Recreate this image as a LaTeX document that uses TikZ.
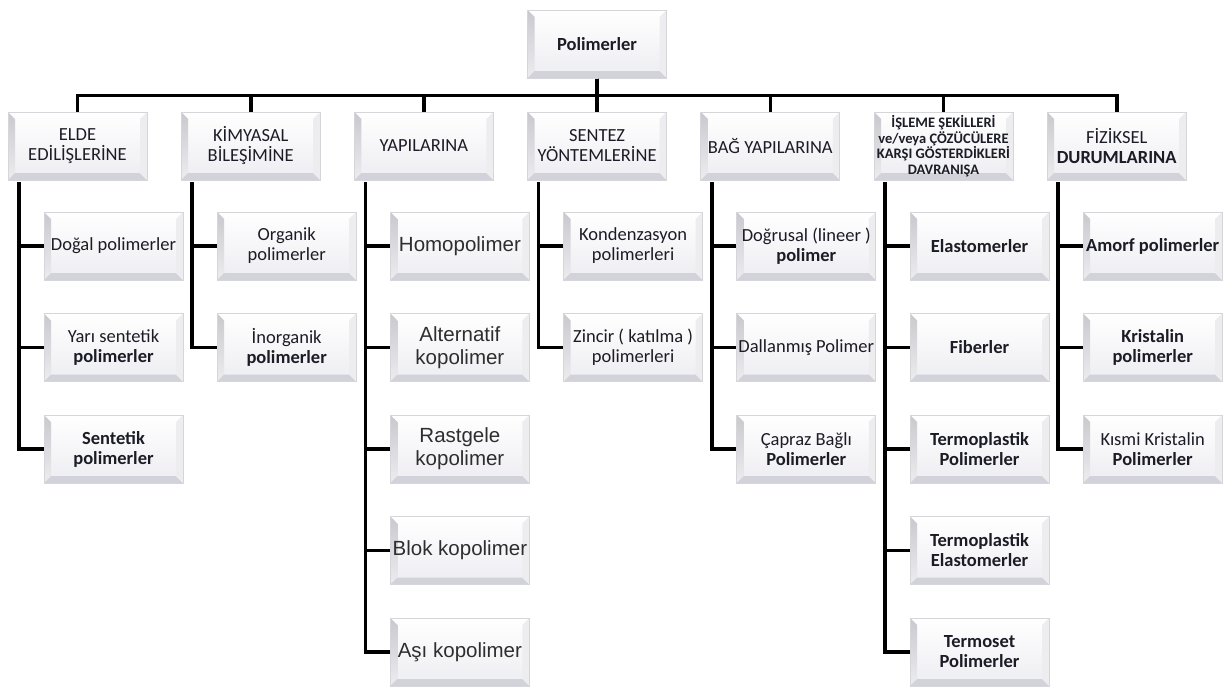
\documentclass[tikz,border=0pt]{standalone}
\usepackage{fontspec}
\setmainfont{Carlito}
\newfontfamily\arialf{Liberation Sans}
\usetikzlibrary{calc}
\definecolor{bevbot}{HTML}{D2D2DA}
\definecolor{bevleft}{HTML}{C8C8CE}
\definecolor{bevright}{HTML}{EDEDF0}
\definecolor{boxedge}{HTML}{D6D6DA}
\definecolor{intbot}{HTML}{EDEDF2}
\definecolor{txt}{HTML}{1C1C26}
\definecolor{txtar}{HTML}{2E2E2E}
\tikzset{
  bevbox/.style={rectangle, draw=boxedge, line width=1pt, minimum width=139pt, minimum height=68pt,
    inner sep=1pt, align=center, text=txt, font=\fontsize{18.5}{20}\selectfont,
    path picture={
      \coordinate (@a) at (path picture bounding box.south west);
      \coordinate (@b) at (path picture bounding box.north east);
      \shade[top color=white, bottom color=intbot] (@a) rectangle (@b);
      \shade[top color=bevleft, bottom color=bevright] (@a) -- (@a|-@b) -- ($(@a|-@b)+(7pt,-7pt)$) -- ($(@a)+(7pt,7pt)$) -- cycle;
      \fill[bevbot] (@a) -- ($(@a)+(7pt,7pt)$) -- ($(@b|-@a)+(-7pt,7pt)$) -- (@b|-@a) -- cycle;
      \fill[bevright] (@b|-@a) -- ($(@b|-@a)+(-7pt,7pt)$) -- ($(@b)+(-7pt,-7pt)$) -- (@b) -- cycle;
    }},
  arbox/.style={bevbox, text=txtar, font=\arialf\fontsize{20.5}{23}\selectfont},
  smallhead/.style={bevbox, inner sep=0pt, font=\bfseries\fontsize{14.5}{15.5}\selectfont},
  boldbox/.style={bevbox, font=\bfseries\fontsize{18.5}{20}\selectfont},
  conn/.style={draw=black, line width=3.6pt}
}
\begin{document}
\begin{tikzpicture}[x=1pt,y=-1pt]
\useasboundingbox[fill=white] (0,0) rectangle (1223,688);

% root
\node[boldbox] (root) at (597,44) {Polimerler};

% headers
\node[bevbox] (h1) at (77.5,146) {ELDE\\EDİLİŞLERİNE};
\node[bevbox] (h2) at (250.7,146) {KİMYASAL\\BİLEŞİMİNE};
\node[bevbox] (h3) at (423.9,146) {YAPILARINA};
\node[bevbox] (h4) at (597.1,146) {SENTEZ\\YÖNTEMLERİNE};
\node[bevbox] (h5) at (770.3,146) {BAĞ YAPILARINA};
\node[smallhead] (h6) at (943.5,146) {İŞLEME ŞEKİLLERİ\\ve/veya ÇÖZÜCÜLERE\\KARŞI GÖSTERDİKLERİ\\DAVRANIŞA};
\node[bevbox] (h7) at (1116.7,146) {FİZİKSEL\\\textbf{DURUMLARINA}};

% column 1
\node[bevbox] (a1) at (113.5,246) {Doğal polimerler};
\node[bevbox] (a2) at (113.5,347.5) {Yarı sentetik\\\textbf{polimerler}};
\node[bevbox] (a3) at (113.5,449) {\textbf{Sentetik}\\\textbf{polimerler}};
% column 2
\node[bevbox] (b1) at (286.7,246) {Organik\\polimerler};
\node[bevbox] (b2) at (286.7,347.5) {İnorganik\\\textbf{polimerler}};
% column 3
\node[arbox] (c1) at (459.9,246) {Homopolimer};
\node[arbox] (c2) at (459.9,347.5) {Alternatif\\kopolimer};
\node[arbox] (c3) at (459.9,449) {Rastgele\\kopolimer};
\node[arbox] (c4) at (459.9,550.5) {Blok kopolimer};
\node[arbox] (c5) at (459.9,652) {Aşı kopolimer};
% column 4
\node[bevbox] (d1) at (633.1,246) {Kondenzasyon\\polimerleri};
\node[bevbox] (d2) at (633.1,347.5) {Zincir ( katılma )\\polimerleri};
% column 5
\node[bevbox] (e1) at (806.3,246) {Doğrusal (lineer )\\\textbf{polimer}};
\node[bevbox] (e2) at (806.3,347.5) {Dallanmış Polimer};
\node[bevbox] (e3) at (806.3,449) {Çapraz Bağlı\\\textbf{Polimerler}};
% column 6
\node[boldbox] (f1) at (979.5,246) {Elastomerler};
\node[boldbox] (f2) at (979.5,347.5) {Fiberler};
\node[boldbox] (f3) at (979.5,449) {Termoplastik\\Polimerler};
\node[boldbox] (f4) at (979.5,550.5) {Termoplastik\\Elastomerler};
\node[boldbox] (f5) at (979.5,652) {Termoset\\Polimerler};
% column 7
\node[boldbox] (g1) at (1152.7,246) {Amorf polimerler};
\node[boldbox] (g2) at (1152.7,347.5) {Kristalin\\polimerler};
\node[bevbox] (g3) at (1152.7,449) {Kısmi Kristalin\\\textbf{Polimerler}};

% bus
\foreach \h in {h1,h2,h3,h4,h5,h6,h7}
  \draw[conn] (root.south) -- ++(0,17) -| (\h.north);

% spines
\foreach \h/\c in {h1/a1,h1/a2,h1/a3,h2/b1,h2/b2,h3/c1,h3/c2,h3/c3,h3/c4,h3/c5,
                   h4/d1,h4/d2,h5/e1,h5/e2,h5/e3,h6/f1,h6/f2,h6/f3,h6/f4,h6/f5,
                   h7/g1,h7/g2,h7/g3}
  \draw[conn] ([xshift=11.5pt,yshift=-1.5pt]\h.south west) |- (\c.west);
\end{tikzpicture}
\end{document}
